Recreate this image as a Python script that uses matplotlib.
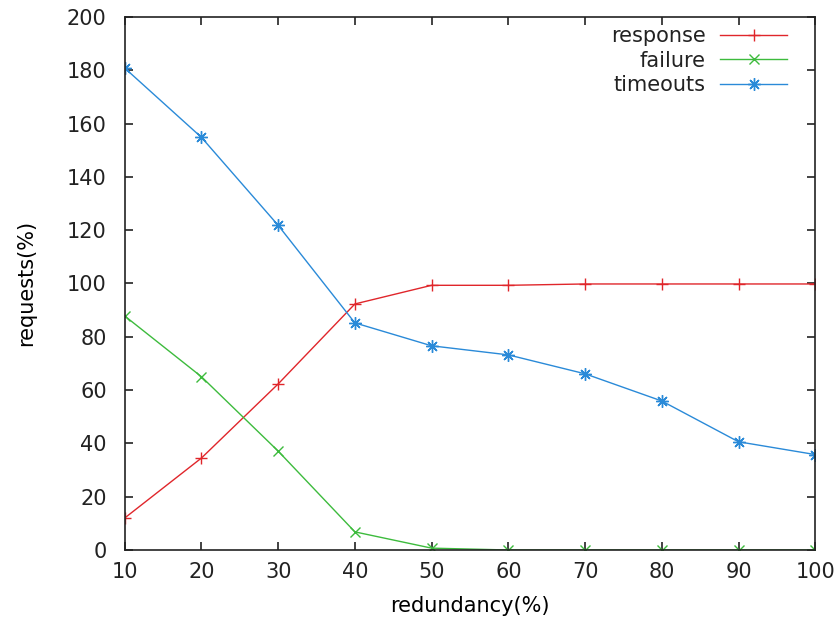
import matplotlib
matplotlib.use("Agg")
from matplotlib import pyplot as plt

redundancy = [10, 20, 30, 40, 50, 60, 70, 80, 90, 100]
response = [12, 34.5, 62.3, 92.3, 99.3, 99.3, 99.8, 99.8, 99.8, 99.8]
failure = [87.8, 65, 37.1, 6.8, 0.7, 0, 0, 0, 0, 0]
timeouts = [180.8, 154.8, 121.8, 85.2, 76.6, 73.2, 66.1, 55.9, 40.6, 35.8]

plt.rcParams['font.family'] = ['DejaVu Sans']
plt.rcParams['font.size'] = 15
plt.rcParams['text.color'] = '#222222'
plt.rcParams['xtick.color'] = '#222222'
plt.rcParams['ytick.color'] = '#222222'

fig = plt.figure(figsize=(8.37, 6.25), dpi=100)
ax = fig.add_axes([0.149, 0.12, 0.825, 0.853])

ax.plot(redundancy, response, color='#e0262b', lw=1.0, marker='+', ms=9, mew=1.0, label='response')
ax.plot(redundancy, failure, color='#3dbb3d', lw=1.0, marker='x', ms=6.5, mew=1.0, label='failure')
ax.plot(redundancy, timeouts, color='#2a8ad8', lw=1.0, marker=(8, 2, 0), ms=9, mew=1.0, label='timeouts')

ax.set_xlim(10, 100)
ax.set_ylim(0, 200)
ax.set_xticks(range(10, 101, 10))
ax.set_yticks(range(0, 201, 20))
ax.tick_params(direction='in', length=6, top=True, right=True, width=1.2)
ax.tick_params(axis='y', pad=13)
ax.tick_params(axis='x', pad=9)
for s in ax.spines.values():
    s.set_linewidth(1.2)
    s.set_color('#222222')

ax.set_xlabel('redundancy(%)', labelpad=10)
ax.set_ylabel('requests(%)', labelpad=22)

ax.legend(loc='upper right', bbox_to_anchor=(0.959, 0.983), frameon=False, markerfirst=False,
          handlelength=3.2, borderaxespad=0, borderpad=0, labelspacing=0.22, handletextpad=0.7)

fig.savefig('out.png', dpi=100)
